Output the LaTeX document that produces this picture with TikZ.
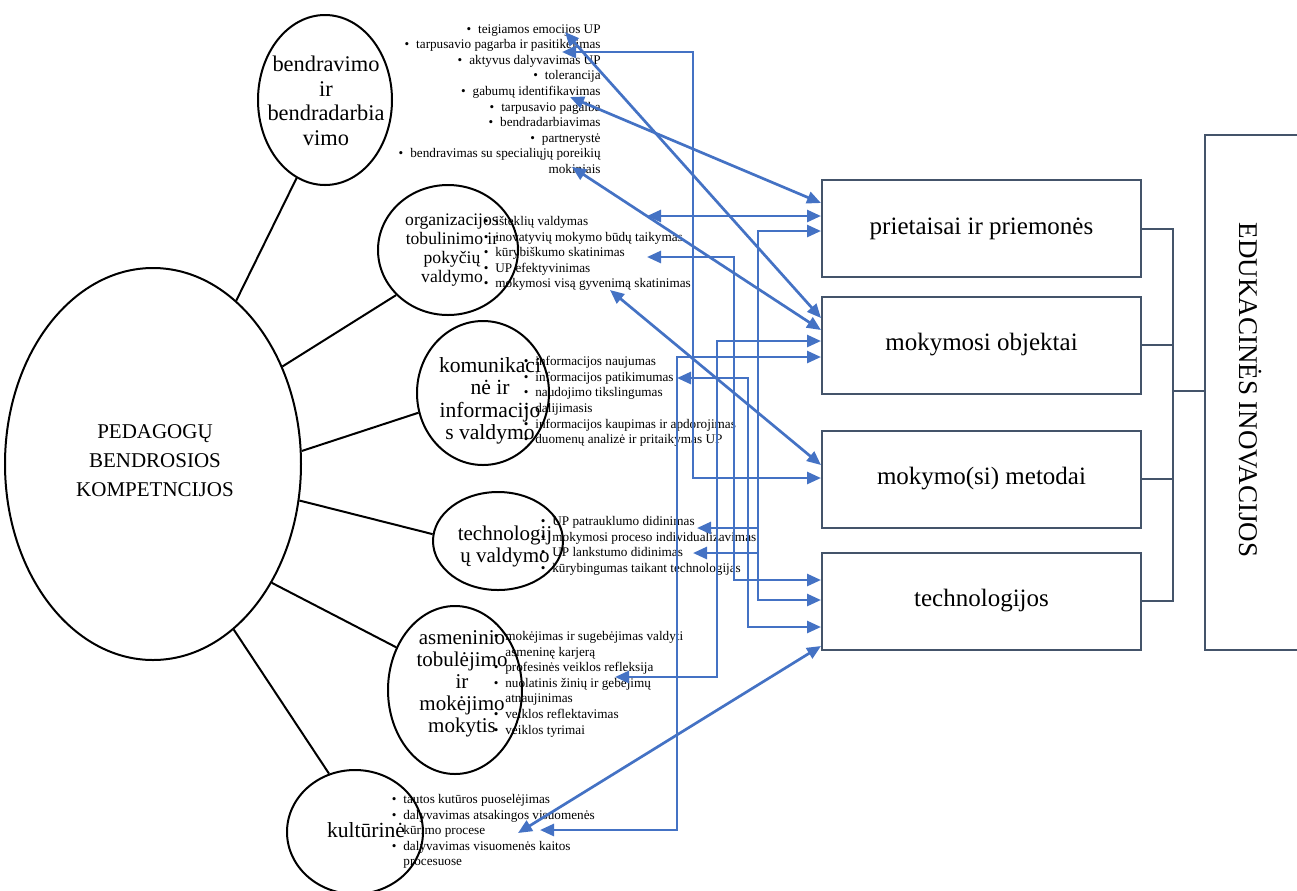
\documentclass[tikz,border=0pt]{standalone}
\usepackage{fontspec}
\setmainfont{Liberation Serif}
\usetikzlibrary{arrows.meta, shapes.geometric}
\definecolor{linkblue}{HTML}{4472C4}
\definecolor{boxgray}{HTML}{44546A}
\newcommand{\itm}{\leavevmode\llap{\textbullet\hspace{3.5pt}}}
\newcommand{\itmr}{\textbullet\hspace{3.5pt}}

\begin{document}
\begin{tikzpicture}[
    x=0.5pt, y=-0.5pt,
    blob/.style={ellipse, draw, line width=1pt, inner sep=0pt},
    elltxt/.style={align=center, inner sep=0pt},
    spoke/.style={line width=1pt},
    box/.style={rectangle, draw=boxgray, line width=1pt,
                minimum width=159.5pt, minimum height=48.5pt,
                font=\fontsize{12.5}{14}\selectfont},
    brk/.style={draw=boxgray, line width=1pt},
    bul/.style={align=left, inner sep=0pt, anchor=north west,
                font=\fontsize{6.6}{7.8}\selectfont},
    bulr/.style={bul, align=right, anchor=north east},
    link/.style={draw=linkblue, line width=1.35pt,
                 {Triangle[length=7pt,width=6pt]}-{Triangle[length=7pt,width=6pt]}}
]
  \useasboundingbox (0,0) rectangle (1297,890);
  \clip (0,0) rectangle (1297,890);

  \node[blob, minimum width=148pt, minimum height=196pt] (ped) at (153,464) {};
  \node[blob, minimum width=67pt, minimum height=85pt] (bend) at (325,100) {};
  \node[blob, minimum width=70pt, minimum height=65pt] (org) at (448,250) {};
  \node[blob, minimum width=66pt, minimum height=72pt] (kom) at (483,393) {};
  \node[blob, minimum width=65pt, minimum height=49pt] (tchv) at (498,541) {};
  \node[blob, minimum width=67pt, minimum height=84pt] (asm) at (455,690) {};
  \node[blob, minimum width=68pt, minimum height=62pt] (kult) at (355,832) {};

  \node[elltxt, font=\fontsize{10.5}{14.5}\selectfont] (pedtxt) at (155,461)
    {PEDAGOGŲ\\BENDROSIOS\\KOMPETNCIJOS};
  \node[elltxt, font=\fontsize{11.2}{12.3}\selectfont] (bendtxt) at (326,101)
    {bendravimo\\ir\\bendradarbia\\vimo};
  \node[elltxt, font=\fontsize{8.8}{9.5}\selectfont] (orgtxt) at (452,250)
    {organizacijos\\tobulinimo ir\\pokyčių\\valdymo};
  \node[elltxt, font=\fontsize{10.8}{11.2}\selectfont] (komtxt) at (490,401)
    {komunikaci\\nė ir\\informacijo\\s valdymo};
  \node[elltxt, font=\fontsize{10.5}{11}\selectfont] (tchvtxt) at (505,546)
    {technologij\\ų valdymo};
  \node[elltxt, font=\fontsize{10.5}{11}\selectfont] (asmtxt) at (462,684)
    {asmeninio\\tobulėjimo\\ir\\mokėjimo\\mokytis};
  \node[elltxt, font=\fontsize{10.8}{11}\selectfont] (kulttxt) at (366,830)
    {kultūrinė};

  \draw[spoke] (ped.63) -- (bend.250);
  \draw[spoke] (ped.37) -- (org.221);
  \draw[spoke] (ped.5) -- (kom.197);
  \draw[spoke] (ped.346) -- (tchv.174);
  \draw[spoke] (ped.315) -- (asm.144);
  \draw[spoke] (ped.296) -- (kult.114);

  \node[bulr] (l1) at (601,24) {\itmr teigiamos emocijos UP\\
    \itmr tarpusavio pagarba ir pasitikėjimas\\
    \itmr aktyvus dalyvavimas UP\\
    \itmr tolerancija\\
    \itmr gabumų identifikavimas\\
    \itmr tarpusavio pagalba\\
    \itmr bendradarbiavimas\\
    \itmr partnerystė\\
    \itmr bendravimas su specialiųjų poreikių\\
    mokiniais};
  \node[bul] (l2) at (495,216) {\itm išteklių valdymas\\
    \itm inovatyvių mokymo būdų taikymas\\
    \itm kūrybiškumo skatinimas\\
    \itm UP efektyvinimas\\
    \itm mokymosi visą gyvenimą skatinimas};
  \node[bul] (l3) at (535,356) {\itm informacijos naujumas\\
    \itm informacijos patikimumas\\
    \itm naudojimo tikslingumas\\
    \itm dalijimasis\\
    \itm informacijos kaupimas ir apdorojimas\\
    \itm duomenų analizė ir pritaikymas UP};
  \node[bul] (l4) at (552,516) {\itm UP patrauklumo didinimas\\
    \itm mokymosi proceso individualizavimas\\
    \itm UP lankstumo didinimas\\
    \itm kūrybingumas taikant technologijas};
  \node[bul] (l5) at (505,631) {\itm mokėjimas ir sugebėjimas valdyti\\
    asmeninę karjerą\\
    \itm profesinės veiklos refleksija\\
    \itm nuolatinis žinių ir gebėjimų\\
    atnaujinimas\\
    \itm veiklos reflektavimas\\
    \itm veiklos tyrimai};
  \node[bul] (l6) at (403,794) {\itm tautos kutūros puoselėjimas\\
    \itm dalyvavimas atsakingos visuomenės\\
    kūrimo procese\\
    \itm dalyvavimas visuomenės kaitos\\
    procesuose};

  \node[box] (prie) at (981.5,228.5) {prietaisai ir priemonės};
  \node[box] (obj) at (981.5,345) {mokymosi objektai};
  \node[box] (meto) at (981.5,479) {mokymo(si) metodai};
  \node[box] (tech) at (981.5,601) {technologijos};
  \node[rectangle, draw=boxgray, line width=1pt, minimum width=57.5pt,
        minimum height=257.5pt] (edu) at (1262.5,392.5) {};
  \node[rotate=-90, inner sep=0pt, font=\fontsize{13.5}{15}\selectfont] (edutxt)
    at (1250,390) {EDUKACINĖS INOVACIJOS};

  \coordinate (jn) at (1173,391);
  \draw[brk] (prie.east) -| (jn);
  \draw[brk] (obj.east) -| (jn);
  \draw[brk] (meto.east) -| (jn);
  \draw[brk] (tech.east) -| (jn);
  \draw[brk] (jn) -- (edu.west |- jn);

  \coordinate (tEmoc) at (565,32);
  \coordinate (tPagarba) at (562,52);
  \coordinate (tGabumu) at (570,97);
  \coordinate (tSpec) at (572,167);
  \coordinate (tIstekl) at (647,216);
  \coordinate (tKuryb) at (647,257);
  \coordinate (tVisa) at (610,290);
  \coordinate (tPatik) at (677,378);
  \coordinate (tIndiv) at (697,528);
  \coordinate (tLanks) at (693,553);
  \coordinate (tNuolat) at (615,677);
  \coordinate (tKultA) at (518,833);
  \coordinate (tKultB) at (540,830);

  \draw[link] (tEmoc) -- (obj.west |- 0,318);
  \draw[link] (tPagarba) -- ++(131,0) |- (meto.west |- 0,478);
  \draw[link] (tGabumu) -- (prie.west |- 0,203);
  \draw[link] (tSpec) -- (obj.west |- 0,330);
  \draw[link] (tIstekl) -- (prie.west |- tIstekl);
  \draw[link] (tKuryb) -- ++(87,0) |- (tech.west |- 0,580);
  \draw[link] (tVisa) -- (meto.west |- 0,465);
  \draw[link] (tPatik) -- ++(71,0) |- (tech.west |- 0,627);
  \draw[link] (tIndiv) -- ++(61,0) |- (tech.west |- 0,600);
  \draw[link] (tLanks) -- ++(65,0) |- (prie.west |- 0,231);
  \draw[link] (tNuolat) -- ++(102,0) |- (obj.west |- 0,341);
  \draw[link] (tKultB) -- ++(137,0) |- (obj.west |- 0,357);
  \draw[link] (tKultA) -- (tech.west |- 0,646);
\end{tikzpicture}
\end{document}
